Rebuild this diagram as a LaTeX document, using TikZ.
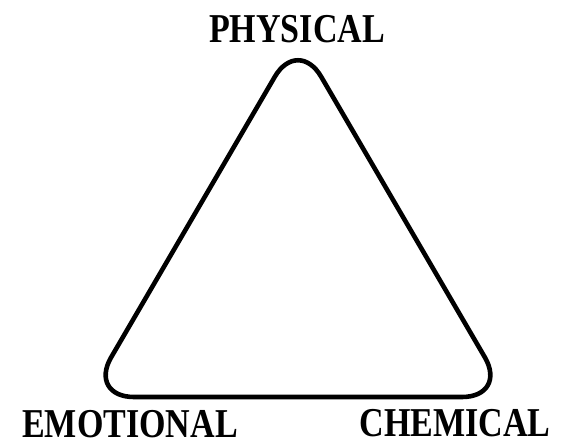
\documentclass[tikz,border=0pt]{standalone}
\usepackage{fontspec}
\setmainfont{Liberation Serif}[FakeStretch=0.83]
\begin{document}
\begin{tikzpicture}[x=1pt, y=-1pt,
    lbl/.style={anchor=base, inner sep=0pt, font=\fontsize{41}{41}\selectfont\bfseries}]
    \useasboundingbox (0,0) rectangle (563,443);

    % 1. Các đỉnh của tam giác
    \coordinate (top) at (298,37);
    \coordinate (left) at (88,397);
    \coordinate (right) at (508,397);

    % 2. Tam giác bo góc
    \draw[line width=4.6pt, rounded corners=46pt, line join=round]
        (top) -- (right) -- (left) -- cycle;

    % 3. Nhãn
    \node[lbl] (physical) at (297,43) {PHYSICAL};
    \node[lbl] (emotional) at (130,438) {EMOTIONAL};
    \node[lbl] (chemical) at (455,437) {CHEMICAL};
\end{tikzpicture}
\end{document}
